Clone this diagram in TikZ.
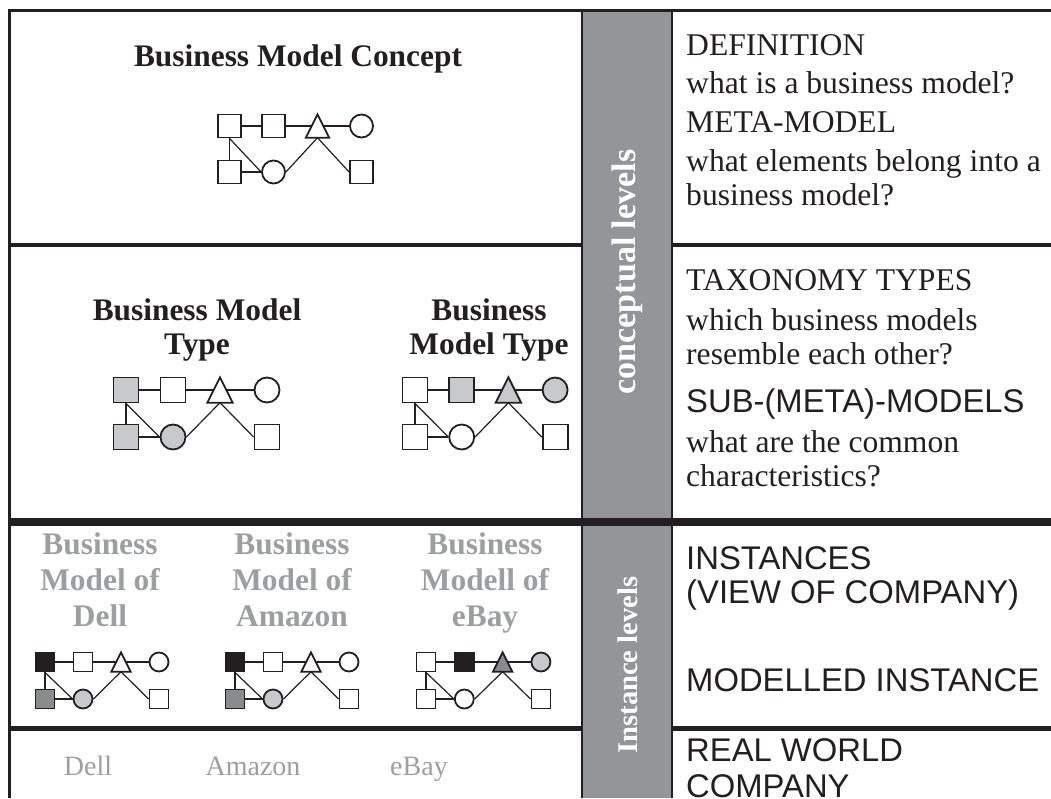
\documentclass[tikz,border=0pt]{standalone}
\usepackage{fontspec}
\setmainfont{Liberation Serif}
\newfontfamily\headfont{Liberation Sans}
\usetikzlibrary{backgrounds}

\definecolor{ink}{HTML}{231F20}
\definecolor{bandgray}{HTML}{939598}
\definecolor{paleshade}{HTML}{C8C9CB}
\definecolor{midshade}{HTML}{8A8B8D}
\definecolor{fadetext}{HTML}{9C9EA1}

\tikzset{
  bm size/.style={bmsq/.style={rectangle,minimum size=#1},
                  bmci/.style={circle,minimum size=#1}},
  bmshape/.style={draw=ink,line width=1.8pt,inner sep=0pt},
  bmline/.style={draw=ink,line width=1.2pt},
  % small element network: a-b-t-c on top, d-e-f below
  pics/bmnet/.style args={#1/#2/#3/#4/#5/#6/#7}{code={
    \node[bmshape,bmsq,fill=#1] (-a) at (0,0) {};
    \node[bmshape,bmsq,fill=#2] (-b) at (1,0) {};
    \node[bmsq,inner sep=0pt] (-t) at (2,0) {};
    \filldraw[bmshape,fill=#3] (-t.south west) -- (-t.north) -- (-t.south east) -- cycle;
    \node[bmshape,bmci,fill=#4] (-c) at (3,0) {};
    \node[bmshape,bmsq,fill=#5] (-d) at (0,1) {};
    \node[bmshape,bmci,fill=#6] (-e) at (1,1) {};
    \node[bmshape,bmsq,fill=#7] (-f) at (3,1) {};
    \begin{pgfonlayer}{background}
      \draw[bmline] (-a) -- (-b) -- (-c);
      \draw[bmline] (-a) -- (-d) -- (-e);
      \draw[bmline] (-a.south) -- (-e.west);
      \draw[bmline] (-e.east) -- (-t.south) -- (-f.west);
    \end{pgfonlayer}
  }},
  body/.style={font=\fontsize{31.6}{36}\selectfont,inner sep=0pt,text=ink,anchor=base west},
  capsline/.style={font=\headfont\fontsize{32.8}{36}\selectfont,inner sep=0pt,text=ink,anchor=base west},
  boldtitle/.style={font=\bfseries\fontsize{31.4}{36}\selectfont,inner sep=0pt,text=ink,anchor=base},
  fadetitle/.style={boldtitle,text=fadetext},
  fadename/.style={font=\fontsize{28}{32}\selectfont,inner sep=0pt,text=fadetext,anchor=base},
  bandlabel/.style={rotate=90,text=white,inner sep=0pt}
}

\begin{document}
\begin{tikzpicture}[x=1pt,y=-1pt,line join=miter]
\useasboundingbox (0,0) rectangle (1051,798);

% level band
\fill[bandgray] (582,10) rectangle (672,798);
\draw[ink,line width=2.5pt] (582,10) -- (582,798) (672,10) -- (672,798);

% table rules
\draw[ink,line width=3pt] (9,798) -- (9,10) -- (1051,10);
\draw[ink,line width=4.5pt] (9,245) -- (582,245) (672,245) -- (1051,245);
\draw[ink,line width=7.5pt] (9,522) -- (1051,522);
\draw[ink,line width=5pt] (9,728) -- (582,728) (672,728) -- (1051,728);

\node[bandlabel,font=\bfseries\fontsize{34}{34}\selectfont] (conclab) at (627,272) {conceptual levels};
\node[bandlabel,font=\bfseries\fontsize{28.5}{28.5}\selectfont] (instlab) at (628,665) {Instance levels};

% concept row
\node[boldtitle] (ctitle) at (298,66) {Business Model Concept};
\begin{scope}[shift={(229.5,126)},x=44pt,y=-46pt,bm size=23pt]
  \pic (concept) at (0,0) {bmnet=white/white/white/white/white/white/white};
\end{scope}

% type row
\node[boldtitle] (typea1) at (197,320) {Business Model};
\node[boldtitle] (typea2) at (197,354) {Type};
\node[boldtitle] (typeb1) at (489,320) {Business};
\node[boldtitle] (typeb2) at (489,354) {Model Type};
\begin{scope}[shift={(126,390)},x=47pt,y=-47pt,bm size=25pt]
  \pic (typea) at (0,0) {bmnet=paleshade/white/white/white/paleshade/paleshade/white};
\end{scope}
\begin{scope}[shift={(415,390)},x=46.7pt,y=-47pt,bm size=25pt]
  \pic (typeb) at (0,0) {bmnet=white/paleshade/paleshade/paleshade/white/white/white};
\end{scope}

% instance row
\foreach \cx/\nm/\co/\of in {100/dell/Dell/Model of,292/amzn/Amazon/Model of,485/ebay/eBay/Modell of}{
  \node[fadetitle] (\nm1) at (\cx,554) {Business};
  \node[fadetitle] (\nm2) at (\cx,590) {\of};
  \node[fadetitle] (\nm3) at (\cx,626) {\co};
}
\begin{scope}[shift={(45,662)},x=38pt,y=-37pt,bm size=19pt]
  \pic (dell) at (0,0) {bmnet=ink/white/white/white/midshade/paleshade/white};
\end{scope}
\begin{scope}[shift={(235,662)},x=38pt,y=-37pt,bm size=19pt]
  \pic (amzn) at (0,0) {bmnet=ink/white/white/white/midshade/paleshade/white};
\end{scope}
\begin{scope}[shift={(426,662)},x=38.3pt,y=-37pt,bm size=19pt]
  \pic (ebay) at (0,0) {bmnet=white/ink/midshade/paleshade/white/white/white};
\end{scope}

% real companies
\node[fadename] (realdell) at (88,775) {Dell};
\node[fadename] (realamzn) at (253,775) {Amazon};
\node[fadename] (realebay) at (419,775) {eBay};

% right column
\node[body] (def) at (686,55) {DEFINITION};
\node[body] (defq) at (686,93) {what is a business model?};
\node[body] (meta) at (686,132) {META-MODEL};
\node[body] (metaq) at (686,171) {what elements belong into a};
\node[body] (metaqb) at (686,205) {business model?};
\node[body] (tax) at (686,290) {TAXONOMY TYPES};
\node[body] (taxq) at (686,330) {which business models};
\node[body] (taxqb) at (686,364) {resemble each other?};
\node[capsline] (sub) at (686,412) {SUB-(META)-MODELS};
\node[body] (subq) at (686,452) {what are the common};
\node[body] (subqb) at (686,486) {characteristics?};
\node[capsline] (inst) at (686,569) {INSTANCES};
\node[capsline] (view) at (686,603) {(VIEW OF COMPANY)};
\node[capsline] (modl) at (686,691) {MODELLED INSTANCE};
\node[capsline] (real) at (686,761) {REAL WORLD};
\node[capsline] (comp) at (686,797) {COMPANY};
\end{tikzpicture}
\end{document}
